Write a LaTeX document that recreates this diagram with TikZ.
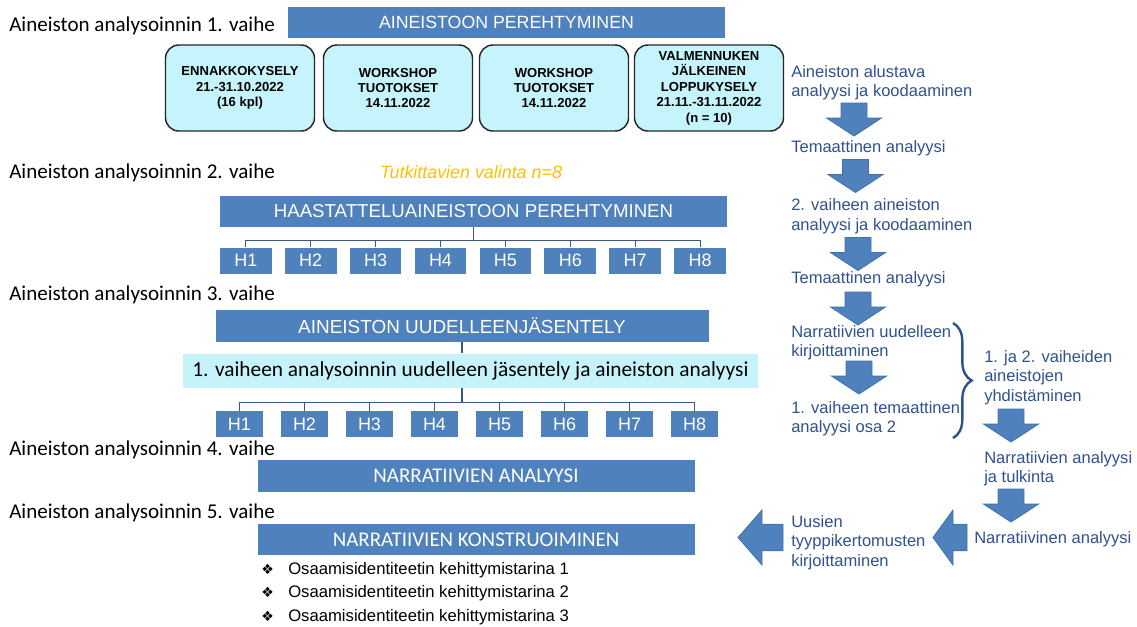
\documentclass[tikz,border=0pt]{standalone}
\usepackage{fontspec}
\setmainfont{Liberation Sans}
\newfontfamily\calib{Carlito}
\newfontfamily\djv{DejaVu Sans}
\usetikzlibrary{decorations.pathreplacing}
\definecolor{bandblue}{RGB}{79,129,189}
\definecolor{bandedge}{RGB}{65,113,170}
\definecolor{lightcyan}{RGB}{197,244,252}
\definecolor{cyanband}{RGB}{198,242,250}
\definecolor{txtblue}{RGB}{47,82,143}
\definecolor{connblue}{RGB}{58,90,125}
\definecolor{orangey}{RGB}{255,192,0}
\tikzset{
  band/.style={fill=bandblue, text=white, inner sep=0pt},
  hbox/.style={fill=bandblue, text=white, inner sep=0pt, minimum height=19.5pt, font=\fontsize{13.5}{15}\selectfont},
  kbox/.style={draw=black!85, line width=1.1pt, fill=lightcyan, rounded corners=10pt, align=center, inner sep=0pt, minimum width=111.75pt, minimum height=64.5pt, font=\bfseries\fontsize{9.8}{11.6}\selectfont},
  rtext/.style={anchor=north west, inner sep=0pt, align=left, text=txtblue, font=\fontsize{12.4}{14.6}\selectfont},
  lab/.style={anchor=base west, inner sep=0pt, font=\calib\fontsize{15.8}{18}\selectfont},
  conn/.style={draw=connblue, line width=0.9pt},
  fatarrow/.style={fill=bandblue, draw=bandedge, line width=0.6pt},
  pics/darr/.style={code={\filldraw[fatarrow] (-13,0) -- (13,0) -- (13,15) -- (27.5,15) -- (0,33) -- (-27.5,15) -- (-13,15) -- cycle;}},
  pics/larr/.style 2 args={code={\filldraw[fatarrow] (0,0) -- (#2,-27.5) -- (#2,-13.3) -- (#1,-13.3) -- (#1,13.3) -- (#2,13.3) -- (#2,27.5) -- cycle;}},
}
\begin{document}
\begin{tikzpicture}[x=0.75pt,y=-0.75pt]
\useasboundingbox[fill=white] (0,0) rectangle (1137,626);

% phase labels
\node[lab] (L1) at (9,31.5) {Aineiston analysoinnin 1. vaihe};
\node[lab] (L2) at (9,178) {Aineiston analysoinnin 2. vaihe};
\node[lab] (L3) at (9,300) {Aineiston analysoinnin 3. vaihe};
\node[lab] (L4) at (9,455) {Aineiston analysoinnin 4. vaihe};
\node[lab] (L5) at (9,518) {Aineiston analysoinnin 5. vaihe};

% phase 1
\node[band, minimum width=327.75pt, minimum height=23.25pt, font=\fontsize{13.3}{15}\selectfont] (B1) at (506.5,22.5) {AINEISTOON PEREHTYMINEN};
\node[kbox] (K1) at (240,88) {ENNAKKOKYSELY\\21.-31.10.2022\\(16 kpl)};
\node[kbox] (K2) at (398,88) {WORKSHOP\\TUOTOKSET\\14.11.2022};
\node[kbox] (K3) at (554,88) {WORKSHOP\\TUOTOKSET\\14.11.2022};
\node[kbox] (K4) at (709,88) {VALMENNUKEN\\JÄLKEINEN\\LOPPUKYSELY\\21.11.-31.11.2022\\(n = 10)};

% phase 2
\node[anchor=base, inner sep=0pt, text=orangey, font=\itshape\fontsize{13.4}{15}\selectfont] (T) at (471,178) {Tutkittavien valinta n=8};
\node[band, minimum width=380.25pt, minimum height=23.25pt, font=\fontsize{14}{15}\selectfont] (B2) at (473.5,211.5) {HAASTATTELUAINEISTOON PEREHTYMINEN};
\foreach \i in {1,...,8}{
  \node[hbox, minimum width=38.8pt] (P\i) at ({245.8+64.9*(\i-1)},260.5) {H\i};
  \draw[conn] (B2.south) -- ++(0,13) -| (P\i.north);
}

% phase 3
\node[band, minimum width=369.75pt, minimum height=24pt, font=\fontsize{14.2}{15}\selectfont] (B3) at (462,325.5) {AINEISTON UUDELLEENJÄSENTELY};
\node[fill=cyanband, inner sep=0pt, minimum width=431.25pt, minimum height=25.5pt, font=\calib\fontsize{16}{18}\selectfont] (C) at (470.5,370.5) {1. vaiheen analysoinnin uudelleen jäsentely ja aineiston analyysi};
\draw[conn] (B3.south) -- (B3.south |- C.north);
\foreach \i in {1,...,8}{
  \node[hbox, minimum width=35.25pt] (Q\i) at ({239.5+65*(\i-1)},424) {H\i};
  \draw[conn] (B3.south |- C.south) -- ++(0,15) -| (Q\i.north);
}

% phase 4, 5
\node[band, minimum width=327.75pt, minimum height=24pt, font=\calib\fontsize{15.7}{18}\selectfont] (B4) at (476,476) {NARRATIIVIEN ANALYYSI};
\node[band, minimum width=327.75pt, minimum height=23.25pt, font=\calib\fontsize{15.7}{18}\selectfont] (B5) at (476,539.5) {NARRATIIVIEN KONSTRUOIMINEN};
\foreach \y/\n in {574/1,597.5/2,621/3}{
  \node[anchor=base west, inner sep=0pt, font=\djv\fontsize{10.5}{12}\selectfont] (bu\n) at (261,\y) {❖};
  \node[anchor=base west, inner sep=0pt, font=\fontsize{12.5}{14}\selectfont] (bt\n) at (288,\y) {Osaamisidentiteetin kehittymistarina \n};
}

% right column
\node[rtext] (R1) at (791,65) {Aineiston alustava\\analyysi ja koodaaminen};
\node[rtext] (R2) at (791,140) {Temaattinen analyysi};
\node[rtext] (R3) at (791,198.7) {2. vaiheen aineiston\\analyysi ja koodaaminen};
\node[rtext] (R4) at (791,271) {Temaattinen analyysi};
\node[rtext] (R5) at (791,325) {Narratiivien uudelleen\\kirjoittaminen};
\node[rtext] (R6) at (791,401) {1. vaiheen temaattinen\\analyysi osa 2};
\node[rtext] (R7) at (984,350) {1. ja 2. vaiheiden\\aineistojen\\yhdistäminen};
\node[rtext] (R8) at (984,451) {Narratiivien analyysi\\ja tulkinta};
\node[rtext] (R9) at (974,531) {Narratiivinen analyysi};
\node[rtext] (R10) at (791,515) {Uusien\\tyyppikertomusten\\kirjoittaminen};

\pic at (854,103) {darr};
\pic at (855.5,159.5) {darr};
\pic at (858,237.5) {darr};
\pic at (858,292) {darr};
\pic at (859,361) {darr};
\pic at (1011,409) {darr};
\pic at (1011,489) {darr};
\pic at (933,537.5) {larr={34}{20}};
\pic at (738,537.5) {larr={45}{24}};

\draw[txtblue, line width=1.8pt, decorate, decoration={brace, amplitude=14pt}] (953,323) -- (953,438);
\end{tikzpicture}
\end{document}
